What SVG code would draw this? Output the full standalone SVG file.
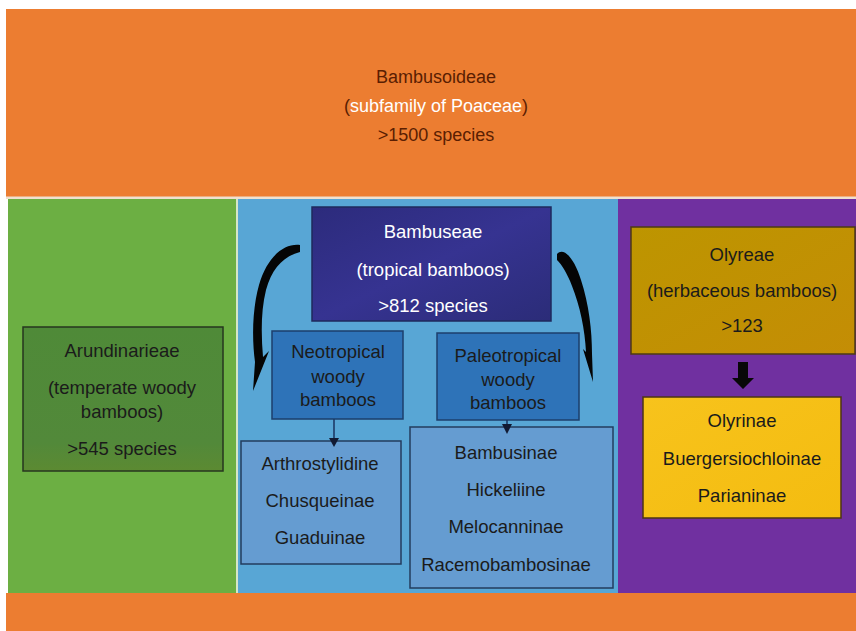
<svg xmlns="http://www.w3.org/2000/svg" width="856" height="631" viewBox="0 0 856 631">
  <defs>
    <style>
      text { font-family: "Liberation Sans", Arial, sans-serif; font-size: 18.5px; text-anchor: middle; }
      .dark { fill: #1b1b1b; }
      .light { fill: #ffffff; }
      .brown { fill: #5a1e02; font-size: 18px; }
      .wht { fill: #ffffff; font-size: 18px; }
      .conn { stroke: #1d3a66; stroke-width: 1.6; fill: none; }
      .head { fill: #111a33; }
    </style>
    <linearGradient id="gNavy" x1="0" y1="0" x2="1" y2="1">
      <stop offset="0" stop-color="#2c2b7c"/>
      <stop offset="0.5" stop-color="#363391"/>
      <stop offset="1" stop-color="#2b2c78"/>
    </linearGradient>
    <linearGradient id="gOly" x1="0" y1="0" x2="1" y2="1">
      <stop offset="0" stop-color="#bd9500"/>
      <stop offset="1" stop-color="#c48d05"/>
    </linearGradient>
    <linearGradient id="gYel" x1="0" y1="0" x2="1" y2="1">
      <stop offset="0" stop-color="#f7c31c"/>
      <stop offset="1" stop-color="#f4bc10"/>
    </linearGradient>
    <linearGradient id="gGreen" x1="0" y1="0" x2="0" y2="1">
      <stop offset="0" stop-color="#4f8a38"/>
      <stop offset="0.8" stop-color="#52893a"/>
      <stop offset="1" stop-color="#5c8a32"/>
    </linearGradient>
  </defs>

  <rect x="0" y="0" width="856" height="631" fill="#ffffff"/>

  <!-- background panels -->
  <g id="panels">
    <rect x="6" y="9" width="850" height="188" fill="#ec7d31"/>
    <rect x="6" y="196.5" width="850" height="2.5" fill="#efe0cf"/>
    <rect x="8" y="199" width="228" height="394" fill="#6caf43"/>
    <rect x="236" y="199" width="2" height="394" fill="#d6e6c8"/>
    <rect x="238" y="199" width="380" height="394" fill="#58a6d5"/>
    <rect x="618" y="199" width="238" height="394" fill="#7030a0"/>
    <rect x="6" y="593" width="850" height="38" fill="#ec7d31"/>
  </g>

  <g id="node-bambusoideae">
    <text class="brown" x="436" y="83">Bambusoideae</text>
    <text class="wht" x="436" y="112"><tspan fill="#5a1e02">(</tspan>subfamily of Poaceae<tspan fill="#5a1e02">)</tspan></text>
    <text class="brown" x="436" y="141">&gt;1500 species</text>
  </g>

  <g id="node-arundinarieae">
    <rect x="23" y="327" width="200" height="144" fill="url(#gGreen)" stroke="#26361f" stroke-width="1.5"/>
    <text class="dark" x="122" y="357">Arundinarieae</text>
    <text class="dark" x="122" y="394">(temperate woody</text>
    <text class="dark" x="122" y="418">bamboos)</text>
    <text class="dark" x="122" y="455">&gt;545 species</text>
  </g>

  <g id="node-bambuseae">
    <rect x="312" y="207" width="239" height="114" fill="url(#gNavy)" stroke="#1e2a5c" stroke-width="1.5"/>
    <text class="light" x="433" y="238">Bambuseae</text>
    <text class="light" x="433" y="276">(tropical bamboos)</text>
    <text class="light" x="433" y="312">&gt;812 species</text>
  </g>

  <g id="node-neotropical">
    <rect x="272" y="331" width="131" height="88" fill="#2e73b8" stroke="#1d3f6c" stroke-width="1.5"/>
    <text class="dark" x="338" y="358">Neotropical</text>
    <text class="dark" x="338" y="383">woody</text>
    <text class="dark" x="338" y="406">bamboos</text>
  </g>

  <g id="node-paleotropical">
    <rect x="437" y="333" width="142" height="87" fill="#2e73b8" stroke="#1d3f6c" stroke-width="1.5"/>
    <text class="dark" x="508" y="362">Paleotropical</text>
    <text class="dark" x="508" y="386">woody</text>
    <text class="dark" x="508" y="409">bamboos</text>
  </g>

  <g id="node-neo-subtribes">
    <rect x="241" y="441" width="160" height="123" fill="#659cd1" stroke="#233c5e" stroke-width="1.5"/>
    <text class="dark" x="320" y="470">Arthrostylidine</text>
    <text class="dark" x="320" y="507">Chusqueinae</text>
    <text class="dark" x="320" y="544">Guaduinae</text>
  </g>

  <g id="node-paleo-subtribes">
    <rect x="410" y="427" width="203" height="161" fill="#659cd1" stroke="#233c5e" stroke-width="1.5"/>
    <text class="dark" x="506" y="459">Bambusinae</text>
    <text class="dark" x="506" y="496">Hickeliine</text>
    <text class="dark" x="506" y="533">Melocanninae</text>
    <text class="dark" x="506" y="571">Racemobambosinae</text>
  </g>

  <g id="node-olyreae">
    <rect x="631" y="227" width="224" height="127" fill="url(#gOly)" stroke="#4d3a14" stroke-width="1.5"/>
    <text class="dark" x="742" y="261">Olyreae</text>
    <text class="dark" x="742" y="297">(herbaceous bamboos)</text>
    <text class="dark" x="742" y="332">&gt;123</text>
  </g>

  <g id="node-olyreae-subtribes">
    <rect x="643" y="397" width="198" height="121" fill="url(#gYel)" stroke="#4d3414" stroke-width="1.5"/>
    <text class="dark" x="742" y="427">Olyrinae</text>
    <text class="dark" x="742" y="465">Buergersiochloinae</text>
    <text class="dark" x="742" y="502">Parianinae</text>
  </g>

  <g id="connectors">
    <!-- left curved arrow -->
    <path d="M 300,245 C 284,243 267,257 259,285 C 252,310 252,340 255,362 L 253,391 L 269,351 L 263,357 C 261,334 261,310 266,290 C 272,268 284,256 300,252 Z" fill="#050505"/>
    <!-- right curved arrow -->
    <path d="M 557,254 C 564,246 575,260 581,280 C 589,305 592,330 592,354 L 593,382 L 583,349 L 586,352 C 585,330 580,306 572,286 C 567,273 562,265 557,260 Z" fill="#050505"/>
    <!-- neotropical down arrow -->
    <line class="conn" x1="334" y1="419" x2="334" y2="439"/>
    <polygon class="head" points="329,438 339,438 334,447"/>
    <!-- paleotropical down arrow -->
    <line class="conn" x1="507" y1="420" x2="507" y2="425"/>
    <polygon class="head" points="502,424 512,424 507,434"/>
    <!-- olyreae block arrow -->
    <polygon points="738,362 748,362 748,378 754,378 743,389 732,378 738,378" fill="#080808"/>
  </g>
</svg>
